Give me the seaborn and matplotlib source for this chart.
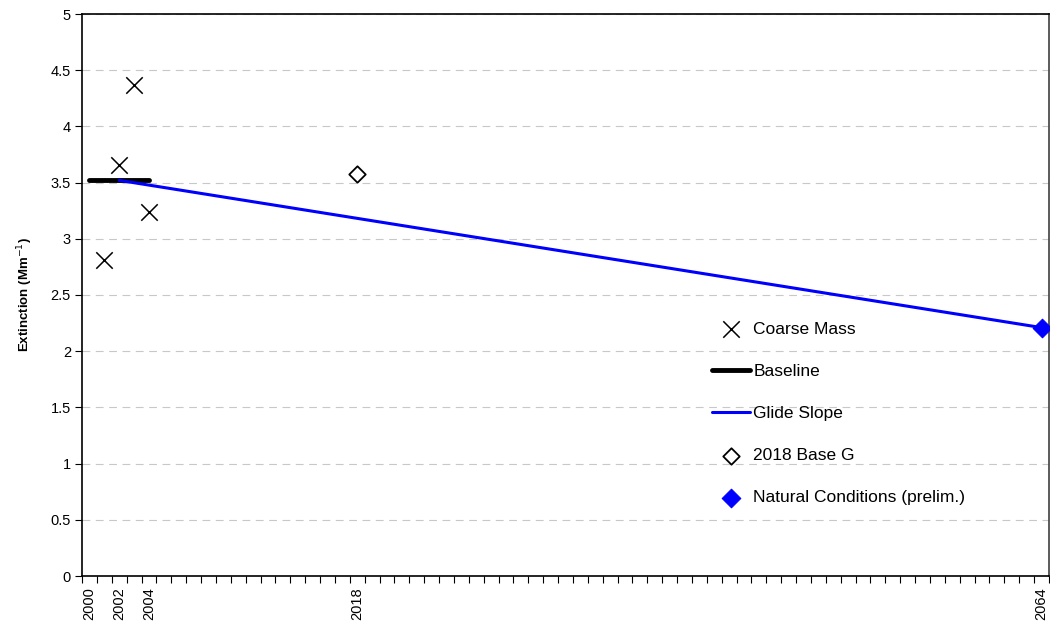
import matplotlib
matplotlib.use("Agg")
import matplotlib.pyplot as plt
import seaborn as sns
import numpy as np
import pandas as pd

# ---- data ----
coarse_years = [2001, 2002, 2003, 2004]
coarse_values = [2.81, 3.66, 4.37, 3.24]
baseline_years = [2000, 2004]
baseline_values = [3.52, 3.52]
glide_years = [2002, 2064]
glide_values = [3.52, 2.21]
base_g_years = [2018]
base_g_values = [3.58]
natural_years = [2064]
natural_values = [2.21]
label_years = [2000, 2002, 2004, 2018, 2064]
y_ticks = [0, 0.5, 1, 1.5, 2, 2.5, 3, 3.5, 4, 4.5, 5]

sns.set_style("white")
plt.rcParams['font.family'] = ['Liberation Sans', 'DejaVu Sans']
plt.rcParams['text.color'] = 'black'
plt.rcParams['xtick.color'] = 'black'
plt.rcParams['ytick.color'] = 'black'
plt.rcParams['axes.labelcolor'] = 'black'

fig = plt.figure(figsize=(10.5, 6.26), dpi=100)
ax = fig.add_axes([82/1050, 1 - 576/626, (1049-82)/1050, (576-14)/626])

for y in y_ticks[1:]:
    ax.axhline(y, color="#c8c8c8", lw=0.8, ls=(0, (7, 5)), zorder=0)

sns.scatterplot(x=coarse_years, y=coarse_values, marker="x", s=140, color="black",
                linewidth=1.1, ax=ax, label="Coarse Mass", zorder=3)
sns.lineplot(x=baseline_years, y=baseline_values, color="black", lw=3.5, ax=ax,
             label="Baseline", zorder=2)
sns.lineplot(x=glide_years, y=glide_values, color="#0000ff", lw=2.2, ax=ax,
             label="Glide Slope", zorder=3)
sns.scatterplot(x=base_g_years, y=base_g_values, marker="D", s=70, facecolor="white",
                edgecolor="black", linewidth=1.3, ax=ax, label="2018 Base G", zorder=3)
sns.scatterplot(x=natural_years, y=natural_values, marker="D", s=90, color="#0000ff",
                edgecolor="#0000ff", ax=ax, label="Natural Conditions (prelim.)",
                zorder=4, clip_on=False)

ax.set_xlim(1999.5, 2064.5)
ax.set_ylim(0, 5)
ax.set_yticks(y_ticks)
ax.set_yticklabels([f"{v:g}" for v in y_ticks], fontsize=10.5)
ax.set_xticks(label_years)
ax.set_xticklabels([str(y) for y in label_years], rotation=90, fontsize=10.5)
ax.set_xticks(np.arange(1999.5, 2065, 1), minor=True)
ax.tick_params(axis="x", which="major", length=0, pad=8)
ax.tick_params(axis="x", which="minor", length=5, width=0.8, color="black", direction="out", bottom=True)
ax.tick_params(axis="y", which="major", length=5, width=0.8, color="black", direction="out", left=True, pad=3)

for side in ["left", "bottom", "top", "right"]:
    ax.spines[side].set_visible(True)
    ax.spines[side].set_color("black")
    ax.spines[side].set_linewidth(1.2)
ax.spines["right"].set_color("#404040")

ax.set_ylabel("Extinction (Mm$^{-1}$)", fontsize=9.5, fontweight="bold", labelpad=11)
ax.set_xlabel("")

leg = ax.legend(loc="upper left", bbox_to_anchor=(0.635, 0.48), frameon=False,
                fontsize=12.5, labelspacing=1.55, handlelength=2.2, handletextpad=0.2)

fig.savefig("out.png", dpi=100)
